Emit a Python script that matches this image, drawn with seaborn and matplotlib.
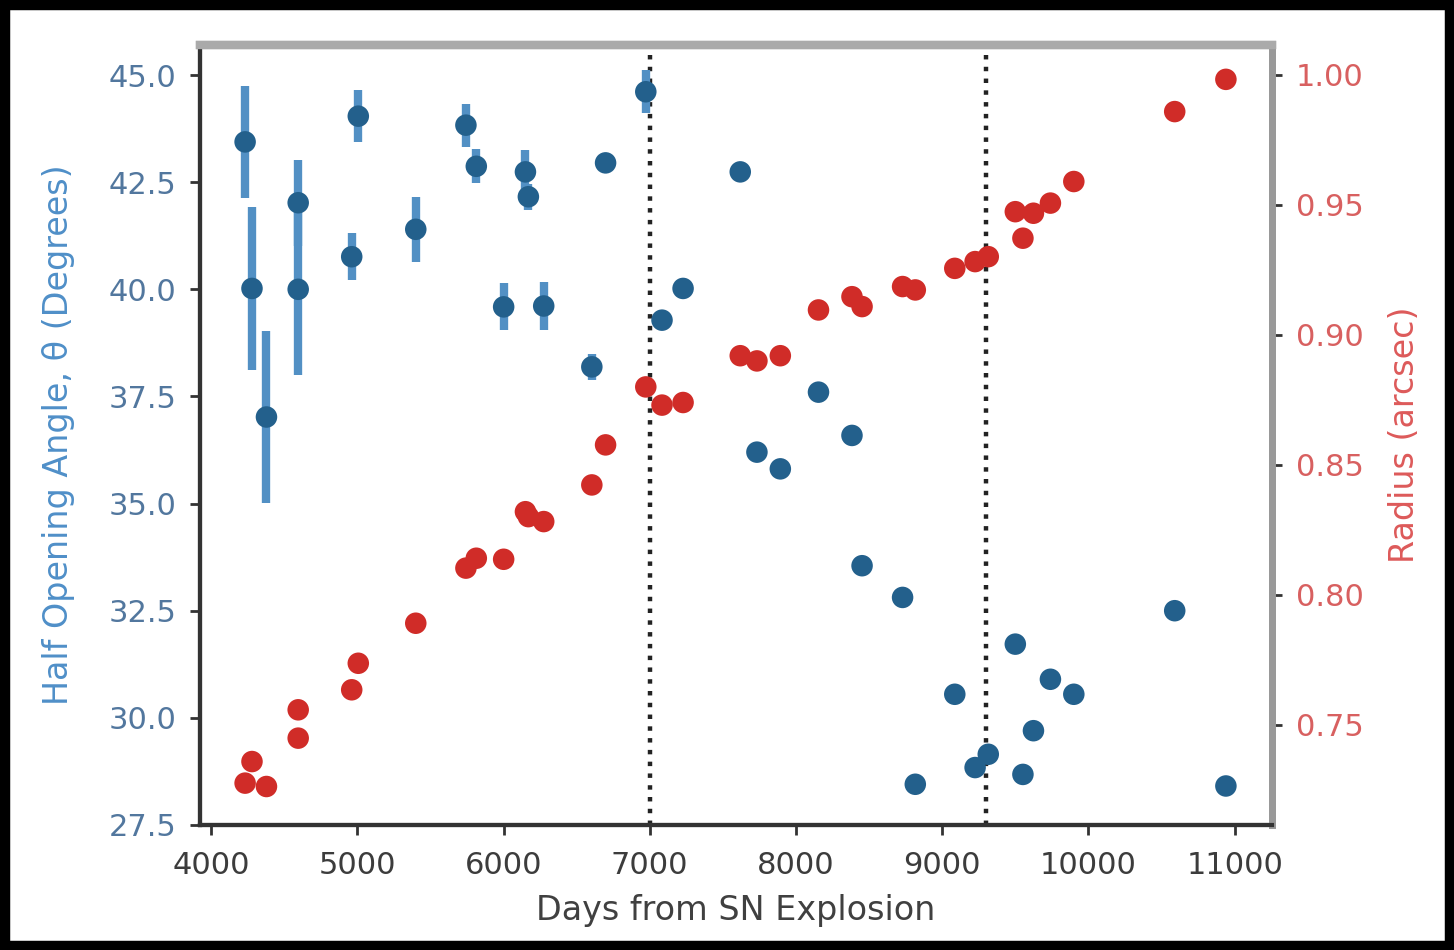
import numpy as np
import matplotlib
matplotlib.use("Agg")
import matplotlib.pyplot as plt
from matplotlib.patches import Rectangle
import seaborn as sns

# Observation epochs (days since explosion), shared by both series
days = [4233, 4280, 4379, 4596, 4596, 4962, 5007, 5400, 5743, 5814,
        6001, 6150, 6170, 6275, 6604, 6698, 6973, 7084, 7228, 7619,
        7733, 7893, 8154, 8383, 8452, 8729, 8816, 9086, 9225, 9315,
        9500, 9552, 9624, 9740, 9900, 10590, 10940]

# Half opening angle (degrees) and its uncertainty
angle = [43.44, 40.02, 37.02, 42.02, 40.00, 40.76, 44.04, 41.40, 43.83, 42.87,
         39.59, 42.74, 42.16, 39.61, 38.19, 42.95, 44.61, 39.28, 40.02, 42.74,
         36.20, 35.81, 37.60, 36.59, 33.55, 32.81, 28.45, 30.55, 28.84, 29.15,
         31.72, 28.68, 29.70, 30.90, 30.55, 32.50, 28.41]
angle_err = [1.3, 1.9, 2.0, 1.0, 2.0, 0.55, 0.6, 0.76, 0.5, 0.4,
             0.55, 0.5, 0.3, 0.55, 0.3, 0.2, 0.5, 0.2, 0.2, 0.2,
             0.2, 0.2, 0.2, 0.2, 0.2, 0.2, 0.2, 0.2, 0.2, 0.2,
             0.2, 0.2, 0.2, 0.2, 0.2, 0.2, 0.2]

# Ring radius (arcsec)
radius = [0.7276, 0.7359, 0.7263, 0.7558, 0.7449, 0.7635, 0.7737, 0.7891, 0.8103, 0.8141,
          0.8137, 0.8320, 0.8301, 0.8282, 0.8423, 0.8577, 0.8800, 0.8730, 0.8740, 0.8920,
          0.8900, 0.8920, 0.9096, 0.9147, 0.9109, 0.9186, 0.9173, 0.9256, 0.9282, 0.9301,
          0.9474, 0.9372, 0.9468, 0.9507, 0.9590, 0.9859, 0.9983]

# Epochs marked with dotted lines
marker_days = [7000, 9300]

x_ticks = [4000, 5000, 6000, 7000, 8000, 9000, 10000, 11000]
left_ticks = [27.5, 30.0, 32.5, 35.0, 37.5, 40.0, 42.5, 45.0]
right_ticks = [0.75, 0.80, 0.85, 0.90, 0.95, 1.00]

blue = "#23608c"
blue_bar = "#5290c4"
blue_tick = "#52779e"
blue_label = "#4f8fc8"
red = "#d02c28"
red_tick = "#d86060"
red_label = "#dd5a5a"

sns.set_style("ticks")
plt.rcParams["font.family"] = ["DejaVu Sans"]
tick_fs = 22
label_fs = 24

fig = plt.figure(figsize=(14.54, 9.5), dpi=100)
ax = fig.add_axes([0.1376, 0.1316, 0.7372, 0.821])

ax.errorbar(days, angle, yerr=angle_err, fmt="none", ecolor=blue_bar,
            elinewidth=6, capsize=0, zorder=2)
sns.scatterplot(x=days, y=angle, ax=ax, color=blue, s=240, edgecolor="none",
                linewidth=0, zorder=3)

for d in marker_days:
    ax.axvline(d, color="#222222", ls=":", lw=3.2, zorder=1)

ax.set_xlim(3925, 11255)
ax.set_ylim(27.5, 45.7)
ax.set_xticks(x_ticks)
ax.set_yticks(left_ticks)
ax.set_xticklabels([str(t) for t in x_ticks])
ax.set_yticklabels([f"{t:.1f}" for t in left_ticks])
ax.tick_params(axis="x", labelsize=tick_fs, colors="#333333", labelcolor="#3c3c3c",
               length=7, width=2, pad=12)
ax.tick_params(axis="y", labelsize=tick_fs, colors="#333333", labelcolor=blue_tick,
               length=7, width=2, pad=10)
ax.set_xlabel("Days from SN Explosion", fontsize=label_fs, color="#404040", labelpad=10)
ax.set_ylabel("Half Opening Angle, θ (Degrees)", fontsize=label_fs, color=blue_label,
              labelpad=24)

ax2 = ax.twinx()
sns.scatterplot(x=days, y=radius, ax=ax2, color=red, s=240, edgecolor="none",
                linewidth=0, zorder=3)
ax2.set_ylim(0.7115, 1.0115)
ax2.set_yticks(right_ticks)
ax2.set_yticklabels([f"{t:.2f}" for t in right_ticks])
ax2.tick_params(axis="y", labelsize=tick_fs, colors="#333333", labelcolor=red_tick,
                length=7, width=2, pad=10)
ax2.set_ylabel("Radius (arcsec)", fontsize=label_fs, color=red_label, labelpad=18)

for a in (ax, ax2):
    a.spines["left"].set_color("#333333")
    a.spines["bottom"].set_color("#333333")
    a.spines["left"].set_linewidth(3)
    a.spines["bottom"].set_linewidth(3)
    a.spines["top"].set_color("#aaaaaa")
    a.spines["right"].set_color("#999999")
    a.spines["top"].set_linewidth(6)
    a.spines["right"].set_linewidth(5)
    a.spines["top"].set_visible(True)
    a.spines["right"].set_visible(True)

# black frame around the whole picture
fig.add_artist(Rectangle((0, 0), 1, 1, transform=fig.transFigure, fill=False,
                         edgecolor="black", linewidth=14, clip_on=False))

fig.savefig("out.png", dpi=100, facecolor="white")
